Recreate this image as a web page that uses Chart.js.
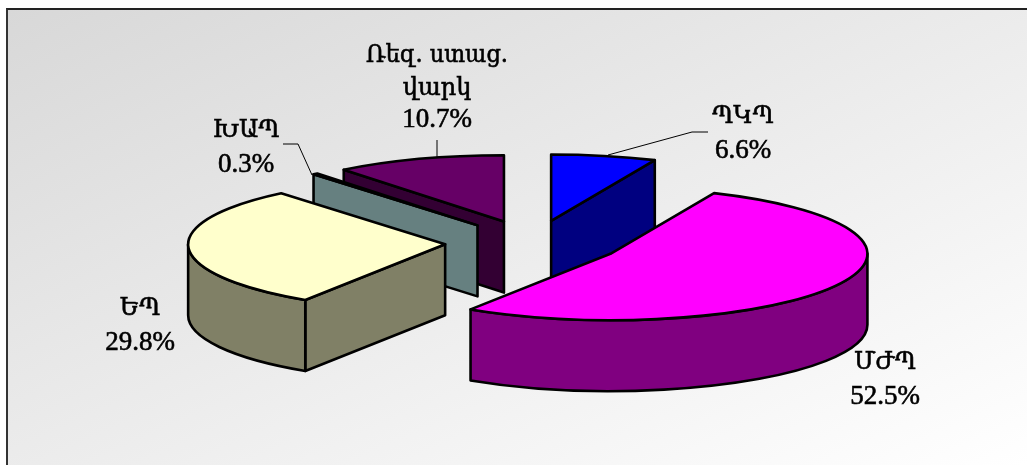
<!DOCTYPE html>
<html>
<head>
<meta charset="utf-8">
<script src="https://cdn.jsdelivr.net/npm/chart.js@4"></script>
<style>
  html, body { margin: 0; padding: 0; background: #fff; overflow: hidden; }
  #frame {
    position: absolute; left: 6px; top: 8px; width: 1021px; height: 457px;
    box-sizing: border-box; border-top: 2px solid #222; border-left: 2px solid #333;
    background: linear-gradient(to bottom right, #d8d8d8, #ffffff);
  }
  #chart { position: absolute; left: 0; top: 0; }
</style>
</head>
<body>
<div id="frame"></div>
<canvas id="chart" width="1027" height="465"></canvas>
<script>
const categories = ['ՊԿՊ', 'ՄԺՊ', 'ԵՊ', 'ԽԱՊ', ['Ռեզ. ստաց.', 'վարկ']];
const shares = [6.6, 52.5, 29.8, 0.3, 10.7];
const topColors = ['#0000ff', '#ff00ff', '#ffffcc', '#ccffff', '#660066'];
const sideColors = ['#000080', '#800080', '#808066', '#668080', '#330033'];

// pie look: flattened ellipse, pulled-out slices, wall height
const RADIUS = 257, SQUASH = 0.258, EXPLODE = 88, DEPTH = 71;
// back slices first so the front ones cover them
const drawOrder = [0, 4, 3, 2, 1];
const labelCenters = [[743, 123], [885, 369], [140, 315], [246, 137], [437, 62]];
const leaders = [
  [[608, 155], [692, 132], [708, 132]],
  [[312, 175], [298, 144], [283, 144]],
  [[437, 157], [437, 140]]
];
const nameFont = '24px "DejaVu Serif", serif';
const percentFont = '27px "Liberation Serif", serif';

function outline(ctx, fill) {
  ctx.fillStyle = fill;
  ctx.fill();
  ctx.stroke();
}

function drawSlice(ctx, arc, top, side) {
  const { startAngle: a, endAngle: b, outerRadius: r, x, y } = arc;
  const mid = (a + b) / 2;
  const cx = x + Math.cos(mid) * EXPLODE;
  const cy = y + Math.sin(mid) * EXPLODE * SQUASH;
  const ry = r * SQUASH;

  // flat cut faces, only the ones turned to the viewer
  [[a, Math.cos(a) < -1e-6], [b, Math.cos(b) > 1e-6]].forEach(([ang, show]) => {
    if (!show) return;
    const ex = cx + Math.cos(ang) * r, ey = cy + Math.sin(ang) * ry;
    ctx.beginPath();
    ctx.moveTo(cx, cy);
    ctx.lineTo(ex, ey);
    ctx.lineTo(ex, ey + DEPTH);
    ctx.lineTo(cx, cy + DEPTH);
    ctx.closePath();
    outline(ctx, side);
  });

  // outer wall on the front half of the ellipse
  const from = Math.max(a, 0), to = Math.min(b, Math.PI);
  if (from < to) {
    ctx.beginPath();
    ctx.ellipse(cx, cy, r, ry, 0, from, to);
    ctx.lineTo(cx + Math.cos(to) * r, cy + Math.sin(to) * ry + DEPTH);
    ctx.ellipse(cx, cy + DEPTH, r, ry, 0, to, from, true);
    ctx.closePath();
    outline(ctx, side);
  }

  ctx.beginPath();
  ctx.moveTo(cx, cy);
  ctx.ellipse(cx, cy, r, ry, 0, a, b);
  ctx.closePath();
  outline(ctx, top);
}

const pie3d = {
  id: 'pie3d',
  beforeDatasetsDraw(chart) {
    const ctx = chart.ctx;
    const arcs = chart.getDatasetMeta(0).data;
    ctx.save();
    ctx.lineWidth = 2.6;
    ctx.lineJoin = 'round';
    ctx.strokeStyle = '#000';
    drawOrder.forEach(i => drawSlice(ctx, arcs[i], topColors[i], sideColors[i]));
    ctx.restore();
    return false;
  },
  afterDraw(chart) {
    const ctx = chart.ctx;
    ctx.save();
    ctx.strokeStyle = '#000';
    ctx.lineWidth = 1;
    leaders.forEach(pts => {
      ctx.beginPath();
      pts.forEach(([px, py], j) => j ? ctx.lineTo(px, py) : ctx.moveTo(px, py));
      ctx.stroke();
    });
    ctx.fillStyle = '#000';
    ctx.textAlign = 'center';
    ctx.textBaseline = 'alphabetic';
    ctx.lineWidth = 0.6;
    categories.forEach((cat, i) => {
      const lines = [].concat(cat, shares[i].toFixed(1) + '%');
      const [lx, ly] = labelCenters[i];
      const step = lines.length > 2 ? 32.5 : 35;
      lines.forEach((t, j) => {
        ctx.font = j === lines.length - 1 ? percentFont : nameFont;
        ctx.fillText(t, lx, ly + j * step, 142);
        ctx.strokeText(t, lx, ly + j * step, 142);
      });
    });
    ctx.restore();
  }
};

new Chart(document.getElementById('chart'), {
  type: 'pie',
  data: {
    labels: categories,
    datasets: [{ data: shares, backgroundColor: topColors, borderWidth: 0, radius: RADIUS }]
  },
  plugins: [pie3d],
  options: {
    responsive: false,
    animation: false,
    events: [],
    layout: { padding: { left: 39, top: 21 } },
    plugins: { legend: { display: false }, tooltip: { enabled: false } }
  }
});
</script>
</body>
</html>
